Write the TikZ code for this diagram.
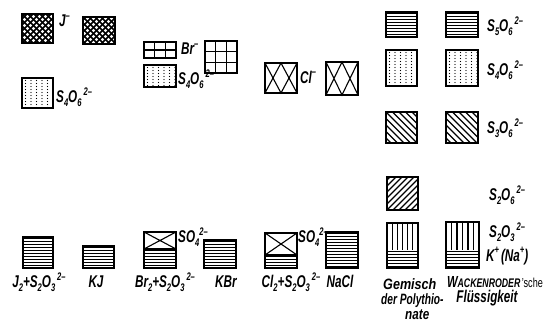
\documentclass[tikz,border=0pt]{standalone}
\usepackage{fontspec}
\setmainfont{Liberation Sans}
\usepackage{graphicx}
\newcommand\lf{\fontsize{17}{15}\selectfont\bfseries\itshape}
\newcommand\lfs{\fontsize{15}{15}\selectfont\bfseries\itshape}
\newcommand\gemfont{\fontsize{15}{15}\selectfont}
\newcommand\dn[1]{\raisebox{-0.4ex}{\fontsize{11}{11}\selectfont #1}}
\newcommand\upx[1]{\raisebox{0.8ex}{\fontsize{11}{11}\selectfont #1}}
\newcommand\nx[1]{\scalebox{0.69}[1]{\lf #1}}
\newcommand\nxs[2]{\scalebox{#1}[1]{\lfs #2}}
\newcommand\BX[4]{\draw[box] (#1,#2) rectangle (#3,#4);}
\newcommand\PH[4]{\begin{scope}\clip (#1,#2) rectangle (#3,#4);
  \foreach \k in {0,...,15}{\draw[line width=1.9pt] (#1,{#2+1.5+3*\k}) -- (#3,{#2+1.5+3*\k});}
  \end{scope}}
\newcommand\PC[4]{\begin{scope}\clip (#1,#2) rectangle (#3,#4);
  \foreach \k in {-9,...,8}{
   \draw[line width=1.6pt] ({#1+6*\k},#2) -- ({#1+6*\k+45},{#2+45});
   \draw[line width=1.6pt] ({#1+6*\k},#4) -- ({#1+6*\k+45},{#4-45});}
  \end{scope}}
\newcommand\PD[4]{\begin{scope}\clip (#1,#2) rectangle (#3,#4);
  \foreach \i in {0,...,6}{\foreach \j in {0,...,13}{\fill ({#1+3.5+5.5*\i},{#2+2.5+3*\j}) circle (0.7pt);}}
  \end{scope}}
\newcommand\PV[4]{\foreach \k in {1,...,5}{\draw[line width=1.1pt] ({#1+(#3-#1)*\k/6},#2) -- ({#1+(#3-#1)*\k/6},#4);}}
\newcommand\PB[4]{\begin{scope}\clip (#1,#2) rectangle (#3,#4);
  \foreach \k in {-7,...,6}{\draw[line width=1.4pt] ({#1+6.5*\k},#2) -- ({#1+6.5*\k+45},{#2+45});}
  \end{scope}}
\newcommand\PF[4]{\begin{scope}\clip (#1,#2) rectangle (#3,#4);
  \foreach \k in {-7,...,6}{\draw[line width=1.1pt] ({#1+6*\k},#4) -- ({#1+6*\k+45},{#4-45});}
  \end{scope}}
\newcommand\PG[5]{\draw[line width=1.1pt] ({#1+(#3-#1)/3},#2) -- ({#1+(#3-#1)/3},#4) ({#1+2*(#3-#1)/3},#2) -- ({#1+2*(#3-#1)/3},#4);
  \foreach \k in {1,...,#5}{\draw[line width=1.1pt] (#1,{#2+(#4-#2)*\k/(#5+1)}) -- (#3,{#2+(#4-#2)*\k/(#5+1)});}}
\newcommand\PXX[4]{\draw[line width=1.1pt] (#1,#2) -- ({(#1+#3)/2},#4) -- (#3,#2) (#1,#4) -- ({(#1+#3)/2},#2) -- (#3,#4);}
\newcommand\PX[4]{\draw[line width=1.1pt] (#1,#2) -- (#3,#4) (#3,#2) -- (#1,#4);}
\begin{document}
\begin{tikzpicture}[x=1pt,y=-1pt,
  box/.style={line width=1.5pt},
  lab/.style={inner sep=0pt,anchor=west},
  clab/.style={inner sep=0pt,anchor=center},
  blab/.style={inner sep=0pt,anchor=base}]
\useasboundingbox[fill=white] (0,0) rectangle (547,328);
% row 1: J-
\PC{22}{14}{53}{43}\BX{22}{14}{53}{43}
\PC{83}{17}{115}{44}\BX{83}{17}{115}{44}
\node[lab] (jm) at (59,21) {\nx{J\upx{–}}};
% S4O6 left
\PD{22}{78}{53}{108}\BX{22}{78}{53}{108}
\node[lab] (s4a) at (56,97) {\nx{S\dn{4}O\dn{6}\,\upx{2–}}};
% Br
\PG{144}{42}{176}{58}{1}\BX{144}{42}{176}{58}
\PG{205}{41}{237}{73}{2}\BX{205}{41}{237}{73}
\node[lab] (brm) at (181,49) {\nx{Br\upx{–}}};
\PD{144}{65}{176}{87}\BX{144}{65}{176}{87}
\node[lab] (s4b) at (178,79) {\nx{S\dn{4}O\dn{6}\,\upx{2–}}};
% Cl
\PXX{265}{63}{297}{93}\BX{265}{63}{297}{93}
\PXX{326}{62}{358}{95}\BX{326}{62}{358}{95}
\node[lab] (clm) at (300,77) {\nx{Cl\upx{–}}};
% right column
\PH{386}{12}{417}{37}\BX{386}{12}{417}{37}
\PH{446}{12}{478}{37}\BX{446}{12}{478}{37}
\node[lab] (s5) at (487,26) {\nx{S\dn{5}O\dn{6}\,\upx{2–}}};
\PD{386}{50}{417}{86}\BX{386}{50}{417}{86}
\PD{446}{50}{478}{86}\BX{446}{50}{478}{86}
\node[lab] (s4c) at (487,70) {\nx{S\dn{4}O\dn{6}\,\upx{2–}}};
\PB{386}{112}{417}{143}\BX{386}{112}{417}{143}
\PB{446}{112}{478}{143}\BX{446}{112}{478}{143}
\node[lab] (s3) at (487,128) {\nx{S\dn{3}O\dn{6}\,\upx{2–}}};
\PF{387}{177}{418}{210}\BX{387}{177}{418}{210}
\node[lab] (s2) at (489,195) {\nx{S\dn{2}O\dn{6}\,\upx{2–}}};
% Gemisch / Wackenroder
\PV{387}{223}{418}{250}\PH{387}{250}{418}{268}\BX{387}{223}{418}{268}
\PV{446}{222}{479}{250}\PH{446}{250}{479}{268}\BX{446}{222}{479}{268}
\node[lab] (s2o3) at (489,232) {\nx{S\dn{2}O\dn{3}\,\upx{2–}}};
\node[lab] (kna) at (486,256) {\nx{K\upx{+}\,(Na\upx{+})}};
% bottom row
\PH{23}{237}{53}{268}\BX{23}{237}{53}{268}
\PH{83}{246}{114}{268}\BX{83}{246}{114}{268}
\PX{144}{232}{176}{249}\PH{144}{249}{176}{268}\BX{144}{232}{176}{268}
\draw[line width=1.1pt] (144,249) -- (176,249);
\node[lab] (so4a) at (178,237) {\nx{SO\dn{4}\upx{2–}}};
\PH{204}{240}{236}{268}\BX{204}{240}{236}{268}
\PX{265}{233}{297}{255}\PH{265}{255}{297}{268}\BX{265}{233}{297}{268}
\draw[line width=1.1pt] (265,255) -- (297,255);
\node[lab] (so4b) at (298,237) {\nx{SO\dn{4}\upx{2–}}};
\fill[white] (326,232) rectangle (358,268);
\PH{326}{232}{358}{268}\BX{326}{232}{358}{268}
% bottom labels
\node[blab] (l1) at (39,288) {\nx{J\dn{2}+S\dn{2}O\dn{3}\,\upx{2–}}};
\node[blab] (l2) at (96,288) {\nx{KJ}};
\node[blab] (l3) at (165,288) {\nx{Br\dn{2}+S\dn{2}O\dn{3}\,\upx{2–}}};
\node[blab] (l4) at (226,288) {\nx{KBr}};
\node[blab] (l5) at (291,288) {\nx{Cl\dn{2}+S\dn{2}O\dn{3}\,\upx{2–}}};
\node[blab] (l6) at (340,288) {\nx{NaCl}};
\node[inner sep=0pt,anchor=north west,align=left,font=\gemfont] (gem) at (381,278)
  {\hspace*{2pt}\nxs{0.84}{Gemisch}\\\nxs{0.68}{der Polythio-}\\\hspace*{24pt}\nxs{0.78}{nate}};
\node[blab] (w1) at (495,288) {\scalebox{0.7}[1]{\fontsize{16}{16}\selectfont\bfseries\itshape W\fontsize{12.5}{12}\selectfont ACKENRODER\mdseries\upshape\,\fontsize{13}{12}\selectfont ’sche}};
\node[blab] (w2) at (487,303) {\nx{Flüssigkeit}};
\end{tikzpicture}
\end{document}
